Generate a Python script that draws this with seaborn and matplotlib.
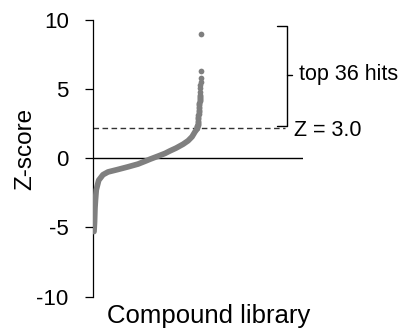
import numpy as np
import pandas as pd
import matplotlib
matplotlib.use("Agg")
import matplotlib.pyplot as plt
import seaborn as sns

# ---- data ----
# sorted Z-scores of the compound library (rank of compound, Z-score)
body_rank = [0, 5, 9, 14, 21, 44, 84, 131, 224, 318, 411, 486, 523, 598, 664,
             710, 766, 832, 879, 916, 944, 963]
body_z = [-5.3, -4.6, -3.6, -3.0, -2.3, -1.6, -1.2, -1.0, -0.82, -0.63, -0.43,
          -0.2, -0.08, 0.14, 0.34, 0.52, 0.72, 1.0, 1.25, 1.54, 1.9, 2.1]
# top 36 hits (above threshold), ascending
hit_z = [2.2, 2.25, 2.3, 2.35, 2.4, 2.45, 2.5, 2.6, 2.7, 2.8, 2.9, 3.0,
         3.1, 3.2, 3.3, 3.4, 3.5, 3.6, 3.7, 3.8, 3.9, 4.0, 4.1, 4.2,
         4.3, 4.35, 4.4, 4.45, 4.55, 4.79, 5.03, 5.27, 5.5, 5.75, 6.3, 8.93]
n_compounds = 1000
threshold = 2.17
yticks = [-10, -5, 0, 5, 10]
hit_label = "top 36 hits"
thr_label = "Z = 3.0"

hit_rank = list(range(n_compounds - len(hit_z), n_compounds))

body = pd.DataFrame({"rank": body_rank, "z": body_z})
hits = pd.DataFrame({"rank": hit_rank, "z": hit_z})

sns.set_style("white")
plt.rcParams["font.family"] = ["Liberation Sans", "DejaVu Sans"]
plt.rcParams["text.color"] = "black"
plt.rcParams["axes.labelcolor"] = "black"
plt.rcParams["ytick.color"] = "black"
plt.rcParams["xtick.color"] = "black"

fig = plt.figure(figsize=(4.01, 3.36), dpi=100)
ax = fig.add_axes([93 / 401, 1 - 296.7 / 336, 210 / 401, 277.2 / 336])

gray = "#7f7f7f"
sns.lineplot(data=body, x="rank", y="z", ax=ax, color=gray, linewidth=4.1,
             solid_capstyle="round", solid_joinstyle="round", zorder=3)
sns.scatterplot(data=hits, x="rank", y="z", ax=ax, color=gray, s=17,
                linewidth=0, zorder=3)

ax.set_xlim(-9.3, 1953)
ax.set_ylim(-10, 10)
ax.axhline(0, color="black", linewidth=1.0, zorder=2)
ax.plot([-9.3, 1785], [threshold, threshold], color="#333333", linewidth=1.0,
        dashes=(4, 2.5), zorder=2)

# bracket
bx0, bx1, bx2 = 1710, 1804, 1850
ytop, ybot, ymid = 9.53, 2.32, 6.0
ax.plot([bx0, bx1, bx1, bx0], [ytop, ytop, ybot, ybot], color="black",
        linewidth=1.0, clip_on=False, solid_joinstyle="round")
ax.plot([bx1, bx2], [ymid, ymid], color="black", linewidth=1.0, clip_on=False)
ax.text(1916, ymid, hit_label, fontsize=15.5, ha="left", va="center",
        clip_on=False, color="black")
ax.text(1869, 2.0, thr_label, fontsize=15.5, ha="left", va="center",
        clip_on=False, color="black")

ax.set_yticks(yticks)
ax.set_yticklabels([str(t) for t in yticks])
ax.set_xticks([])
ax.tick_params(axis="y", direction="out", length=5.5, width=0.9, pad=12,
               labelsize=16, left=True, color="black", labelcolor="black")
for s in ["top", "right", "bottom"]:
    ax.spines[s].set_visible(False)
ax.spines["left"].set_color("black")
ax.spines["left"].set_linewidth(0.9)

ax.set_ylabel("Z-score", fontsize=17.5, color="black")
ax.yaxis.set_label_coords(-0.27, 0.533)
ax.set_xlabel("Compound library", fontsize=18.5, color="black")
ax.xaxis.set_label_coords(0.552, -0.025)

fig.savefig("out.png", dpi=100)
